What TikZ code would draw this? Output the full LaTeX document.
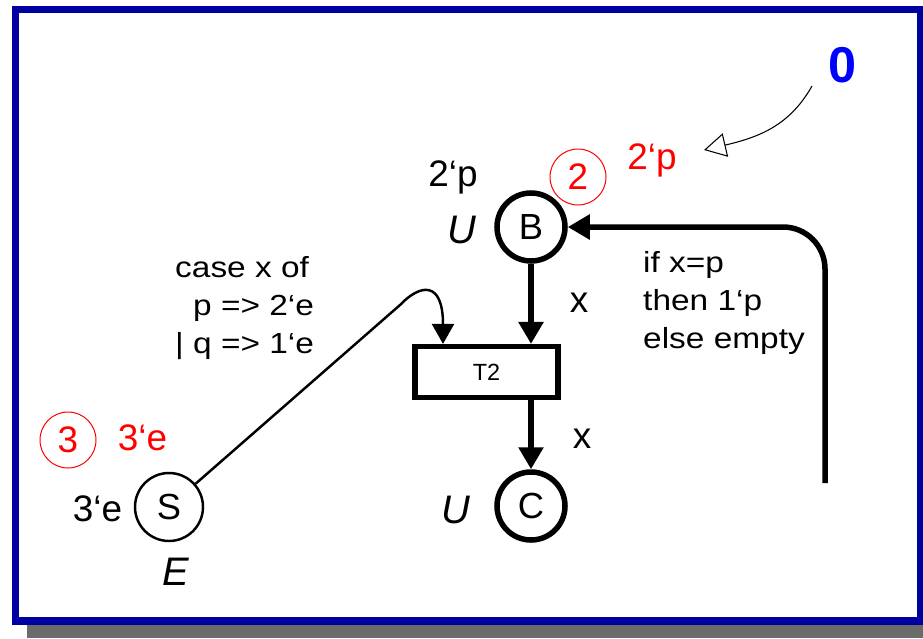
\documentclass[tikz,border=0pt]{standalone}
\usepackage{fontspec}
\setmainfont{Liberation Sans}
\newfontfamily\inscrfont[FakeStretch=1.15]{Liberation Sans}
\usetikzlibrary{positioning, calc, arrows.meta}
\definecolor{frameblue}{RGB}{0,0,160}
\definecolor{shadowgray}{RGB}{107,107,107}
\definecolor{tokred}{RGB}{255,0,0}
\definecolor{stepblue}{RGB}{0,0,255}

\begin{document}
\begin{tikzpicture}[
  x=0.03cm, y=-0.03cm,
  place/.style={
    circle, draw, line width=4.7pt, minimum size=2.04cm, inner sep=0pt,
    font=\fontsize{31}{36}\selectfont
  },
  srcplace/.style={place, line width=2.1pt},
  trans/.style={
    draw, line width=4.7pt, minimum width=4.3cm, minimum height=1.52cm,
    inner sep=0pt, font=\fontsize{20}{24}\selectfont
  },
  arcline/.style={-{Triangle[length=0.66cm, width=0.72cm]}, line width=4.7pt},
  thinarcline/.style={-{Triangle[length=0.6cm, width=0.66cm]}, line width=2.1pt},
  markarrow/.style={-{Triangle[open, length=0.66cm, width=0.72cm]}, line width=0.9pt},
  lbl/.style={inner sep=0pt, font=\fontsize{31.5}{36}\selectfont},
  tok/.style={lbl, text=tokred},
  typ/.style={inner sep=0pt, font=\fontsize{34}{40}\selectfont\itshape},
  inscr/.style={inner sep=0pt, align=left, font=\inscrfont\fontsize{24.8}{32.4}\selectfont},
  tokcount/.style={
    circle, draw=tokred, line width=0.85pt, minimum size=1.68cm, inner sep=0pt,
    text=tokred, font=\fontsize{31.5}{36}\selectfont
  }
]
  \useasboundingbox (0,0) rectangle (923,638);
  \fill[shadowgray] (27,620) rectangle (923,638);
  \draw[frameblue, fill=white, line width=6.4pt] (15.5,9.5) rectangle (920.5,621);

  \node[place] (B) at (531,227) {B};
  \node[place] (C) at (531,506) {C};
  \node[srcplace] (S) at (169,507) {S};
  \node[trans] (T2) at (486.5,372) {T2};

  \node[typ] (Btype) at (462,230) {U};
  \node[typ] (Ctype) at (455.5,510) {U};
  \node[typ] (Stype) at (175.5,572) {E};

  \node[lbl] (Binit) at (453,177) {2‘p};
  \node[lbl] (Sinit) at (97.5,509) {3‘e};
  \node[tok] (Bmark) at (652,160) {2‘p};
  \node[tok] (Smark) at (142.5,438) {3‘e};
  \node[tokcount] (Bcount) at (578,177) {2};
  \node[tokcount] (Scount) at (68,440) {3};

  \node[inner sep=0pt, text=stepblue, font=\fontsize{43}{50}\selectfont\bfseries] (stepno) at (842,65) {0};

  \node[lbl] (BTx) at (579,303) {x};
  \node[lbl] (TCx) at (582,439) {x};
  \node[inscr, anchor=west] (ifexpr) at (643,303) {if x=p\\then 1‘p\\else empty};
  \node[inscr, anchor=west] (caseexpr) at (175,308) {case x of\\\hspace*{0.54cm}p => 2‘e\\| q => 1‘e};

  \coordinate (retfoot) at (825,483);
  \coordinate (caseknee) at (400,305);
  \coordinate (markfrom) at (812,86);
  \coordinate (markto) at (704,150);

  \draw[arcline] (B) -- (T2.north -| B);
  \draw[arcline] (T2.south -| C) -- (C);
  \draw[arcline, rounded corners=1.26cm] (retfoot) |- (B);
  \draw[thinarcline] (S) -- (caseknee) .. controls (420,284) and (443,280) .. ([xshift=-1.305cm]T2.north);
  \draw[markarrow] (markfrom) .. controls (790,125) and (760,137) .. (markto);
\end{tikzpicture}
\end{document}
